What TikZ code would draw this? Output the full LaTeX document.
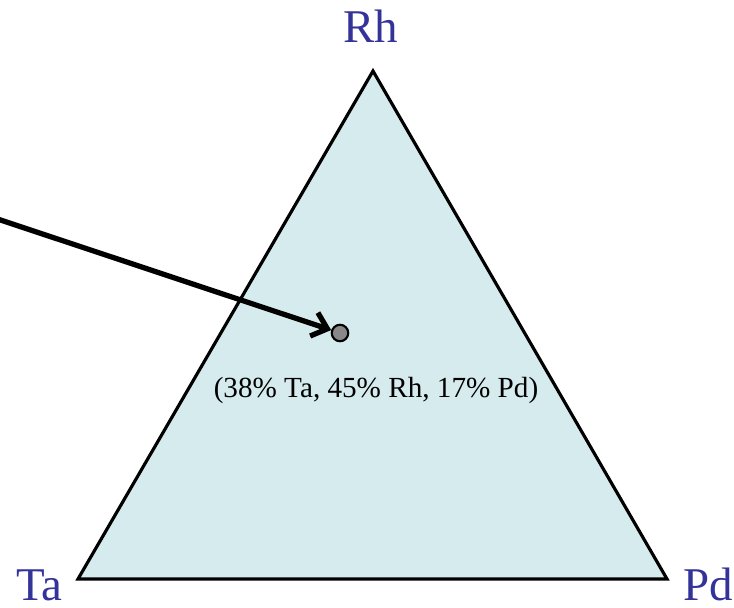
\documentclass[tikz,border=0pt]{standalone}
\usepackage{fontspec}
\setmainfont{Liberation Serif}
\usetikzlibrary{arrows.meta, positioning}
\definecolor{elblue}{HTML}{333399}
\definecolor{fillcyan}{HTML}{D6EBEE}
\definecolor{dotgray}{HTML}{888888}
\tikzset{
  every picture/.style={line join=miter},
  element/.style={text=elblue, font=\fontsize{26.7}{30}\selectfont, anchor=base, inner sep=0pt},
  % composition point and its label
  comp/.style={circle, draw, line width=1.2pt, fill=dotgray, minimum size=0.33cm, inner sep=0pt},
  complabel/.style={font=\fontsize{16.6}{20}\selectfont, anchor=base, inner sep=0pt},
  pointer/.style={-{Straight Barb[length=8pt, width=14pt]}, line width=3pt},
}

\begin{document}
\begin{tikzpicture}
  \useasboundingbox (0,0) rectangle (14.68,12.14);
  % corners of the ternary diagram
  \coordinate (ta) at (1.56,0.56);
  \coordinate (pd) at (13.34,0.56);
  \coordinate (rh) at (7.46,10.72);
  \draw[line width=1.8pt, fill=fillcyan] (ta) -- (pd) -- (rh) -- cycle;
  \node[element] (rhlabel) at (7.41,11.28) {Rh};
  \node[element] (talabel) at (0.79,0.14) {Ta};
  \node[element] (pdlabel) at (14.16,0.14) {Pd};
  % the sample
  \node[comp] (sample) at (6.80,5.48) {};
  \node[complabel] (samplelabel) at (7.52,4.20) {(38\% Ta, 45\% Rh, 17\% Pd)};
  \coordinate (src) at (-0.05,7.76);
  \draw[pointer] (src) -- (sample);
\end{tikzpicture}
\end{document}
